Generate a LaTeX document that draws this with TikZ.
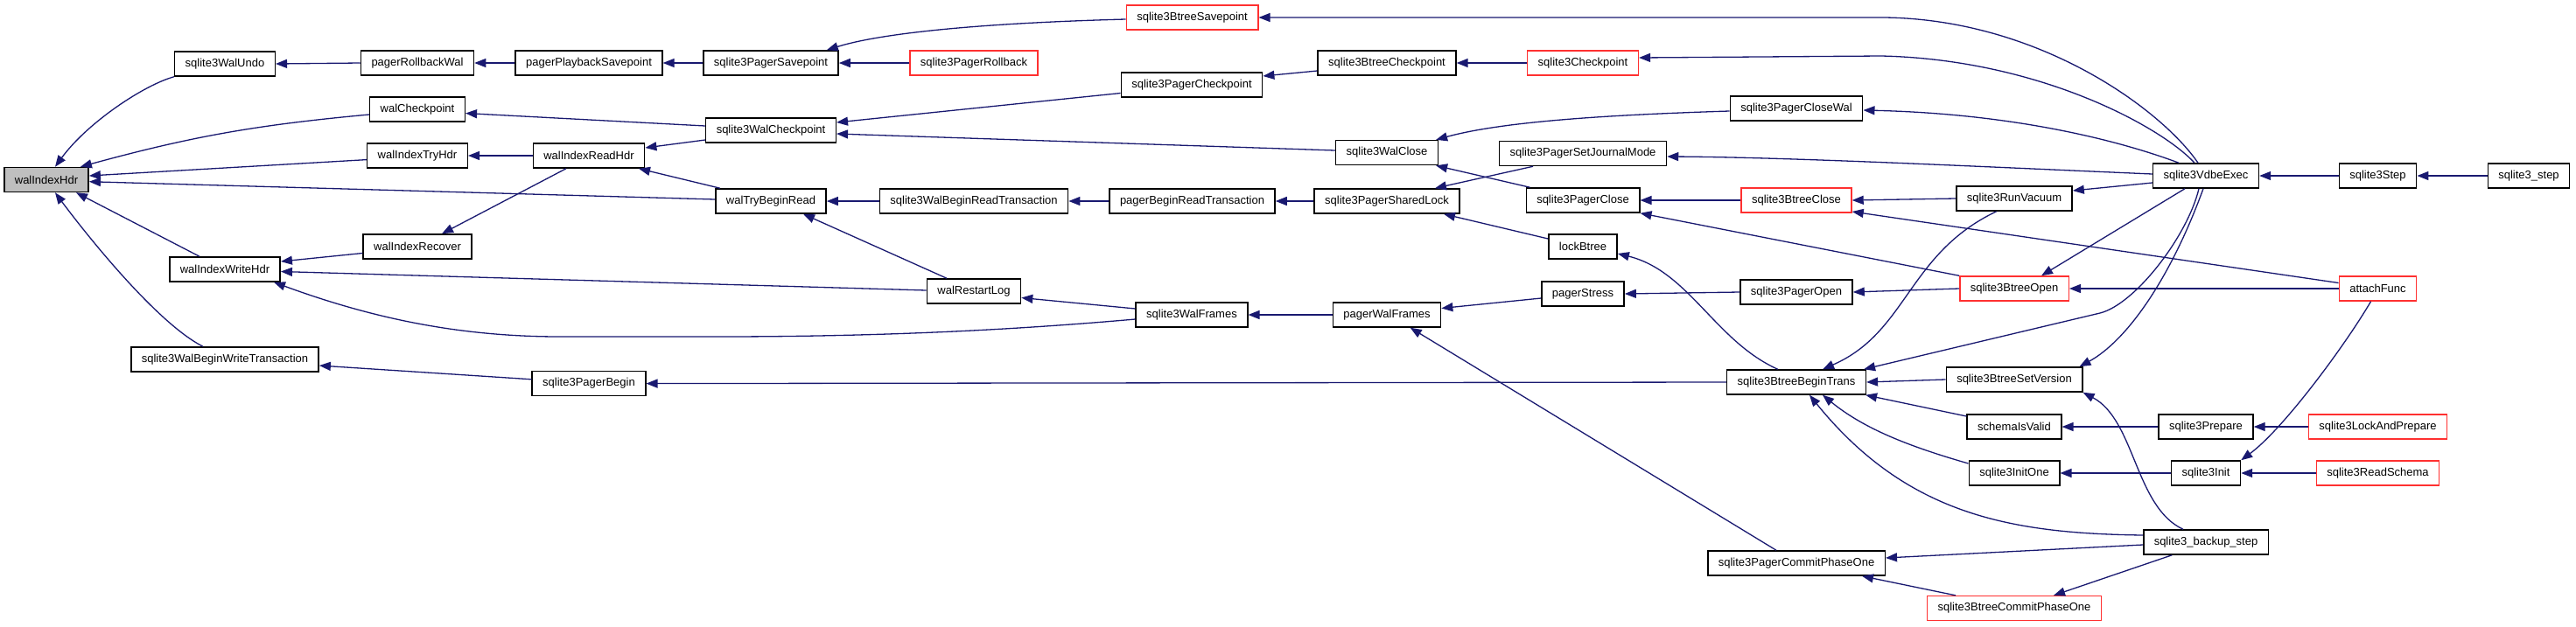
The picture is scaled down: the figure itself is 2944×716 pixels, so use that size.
\documentclass[tikz,border=0pt]{standalone}
\usepackage{fontspec}
\setmainfont{Liberation Sans}
\usetikzlibrary{arrows.meta,calc}
\definecolor{edgeblue}{HTML}{191970}
\definecolor{nodered}{HTML}{FF3030}
\definecolor{rootgray}{HTML}{BFBFBF}
\tikzset{
 box/.style={draw=black, line width=1.5pt, fill=white, minimum height=28pt, inner xsep=12pt, inner ysep=0pt, font=\fontsize{13}{15}\selectfont, text=black},
 redbox/.style={box, draw=nodered},
 rootbox/.style={box, fill=rootgray},
 call/.style={draw=edgeblue, line width=1.3pt, -{Triangle[length=13pt,width=10pt]}},
}
\begin{document}
\begin{tikzpicture}[x=1pt,y=-1pt]
\useasboundingbox (0,0) rectangle (2944,716);
% nodes
\node[rootbox] (hdr) at (53,205.5) {walIndexHdr};
\node[box] (walundo) at (257,73) {sqlite3WalUndo};
\node[box] (writehdr) at (257,308) {walIndexWriteHdr};
\node[box] (bwt) at (257,411) {sqlite3WalBeginWriteTransaction};
\node[box] (rbwal) at (477,72) {pagerRollbackWal};
\node[box] (walckpt) at (477,125) {walCheckpoint};
\node[box] (tryhdr) at (477,178) {walIndexTryHdr};
\node[box] (recover) at (477,282) {walIndexRecover};
\node[box] (playsp) at (673,72) {pagerPlaybackSavepoint};
\node[box] (readhdr) at (673,178) {walIndexReadHdr};
\node[box] (pbegin) at (673,438.6) {sqlite3PagerBegin};
\node[box] (psp) at (881,72) {sqlite3PagerSavepoint};
\node[box] (swalckpt) at (881,149) {sqlite3WalCheckpoint};
\node[box] (trybr) at (881,230) {walTryBeginRead};
\node[redbox] (prb) at (1113,72) {sqlite3PagerRollback};
\node[box] (wbrt) at (1113,230) {sqlite3WalBeginReadTransaction};
\node[box] (restart) at (1113,333) {walRestartLog};
\node[redbox] (btsp) at (1362.5,20) {sqlite3BtreeSavepoint};
\node[box] (pckpt) at (1362,97) {sqlite3PagerCheckpoint};
\node[box] (pbrt) at (1362.5,230) {pagerBeginReadTransaction};
\node[box] (walframes) at (1362,360) {sqlite3WalFrames};
\node[box] (btckpt) at (1585,72) {sqlite3BtreeCheckpoint};
\node[box] (walclose) at (1585,174.6) {sqlite3WalClose};
\node[box] (shlock) at (1585,230) {sqlite3PagerSharedLock};
\node[box] (pwf) at (1585,360) {pagerWalFrames};
\node[redbox] (ckpt) at (1809,72) {sqlite3Checkpoint};
\node[box] (sjm) at (1809,175.5) {sqlite3PagerSetJournalMode};
\node[box] (pclose) at (1809,229) {sqlite3PagerClose};
\node[box] (lockbt) at (1809,282) {lockBtree};
\node[box] (stress) at (1809,336) {pagerStress};
\node[box] (pclosewal) at (2053,124) {sqlite3PagerCloseWal};
\node[redbox] (btclose) at (2053,229) {sqlite3BtreeClose};
\node[box] (popen) at (2053,334) {sqlite3PagerOpen};
\node[box] (bttrans) at (2053,437) {sqlite3BtreeBeginTrans};
\node[box] (pcpo) at (2053,644) {sqlite3PagerCommitPhaseOne};
\node[box] (vacuum) at (2302,227) {sqlite3RunVacuum};
\node[redbox] (btopen) at (2302,330) {sqlite3BtreeOpen};
\node[box] (setver) at (2302,434) {sqlite3BtreeSetVersion};
\node[box] (schema) at (2302,488) {schemaIsValid};
\node[box] (initone) at (2302,541) {sqlite3InitOne};
\node[redbox] (bcpo) at (2302,695.6) {sqlite3BtreeCommitPhaseOne};
\node[box] (vdbe) at (2521,201) {sqlite3VdbeExec};
\node[box] (prepare) at (2521,488) {sqlite3Prepare};
\node[box] (init) at (2521,541) {sqlite3Init};
\node[box] (backup) at (2521,620) {sqlite3\_backup\_step};
\node[box] (step) at (2717.5,201) {sqlite3Step};
\node[redbox] (attach) at (2717.5,330) {attachFunc};
\node[redbox] (lap) at (2717.5,488) {sqlite3LockAndPrepare};
\node[redbox] (readschema) at (2717.5,541) {sqlite3ReadSchema};
\node[box] (ustep) at (2890,201) {sqlite3\_step};
% edges (caller -> callee)
\draw[call] (walundo.south west) .. controls (165,97) and (100,140) .. ($(hdr.north)+(10,0)$);
\draw[call] ($(walckpt.west)+(0,6)$) to[bend right=5] ($(hdr.north east)+(-10,0)$);
\draw[call] ($(tryhdr.west)+(0,4.6)$) -- ($(hdr.east)+(0,-4.5)$);
\draw[call] ($(trybr.west)+(0,-2)$) -- ($(hdr.east)+(0,2.2)$);
\draw[call] ($(writehdr.north)+(-29,0)$) -- ($(hdr.south)+(34,0)$);
\draw[call] ($(bwt.north)+(-25,0)$) .. controls (180,370) and (100,270) .. ($(hdr.south)+(10,0)$);
\draw[call] (rbwal.west) -- (walundo.east);
\draw[call] (playsp.west) -- (rbwal.east);
\draw[call] (psp.west) -- (playsp.east);
\draw[call] ($(btsp.west)+(0,2)$) .. controls (1100,27) and (1000,40) .. ($(psp.north east)+(-14,0)$);
\draw[call] (prb.west) -- (psp.east);
\draw[call] ($(vdbe.north)+(-9,0)$) .. controls (2470,125) and (2330,22) .. (2153,20) -- (btsp.east);
\draw[call] ($(swalckpt.west)+(0,-5)$) -- ($(walckpt.east)+(0,4.5)$);
\draw[call] ($(pckpt.west)+(0,9.5)$) -- ($(swalckpt.east)+(0,-9)$);
\draw[call] ($(walclose.west)+(0,-2.6)$) -- ($(swalckpt.east)+(0,4)$);
\draw[call] ($(btckpt.west)+(0,9)$) -- ($(pckpt.east)+(0,-10)$);
\draw[call] (ckpt.west) -- (btckpt.east);
\draw[call] ($(vdbe.north)+(-13,0)$) .. controls (2470,145) and (2330,68) .. (2150,64) -- ($(ckpt.east)+(0,-6)$);
\draw[call] (readhdr.west) -- (tryhdr.east);
\draw[call] ($(swalckpt.west)+(0,11)$) -- ($(readhdr.east)+(0,-9)$);
\draw[call] ($(trybr.north)+(-58,0)$) -- ($(readhdr.south)+(57,0)$);
\draw[call] ($(readhdr.south)+(-26,0)$) -- ($(recover.north)+(28,0)$);
\draw[call] ($(recover.west)+(0,7.5)$) -- ($(writehdr.east)+(0,-9)$);
\draw[call] ($(restart.west)+(0,-1)$) -- ($(writehdr.east)+(0,2.5)$);
\draw[call] ($(walframes.west)+(0,5)$) .. controls (1150,378) and (1000,385) .. (820,385) -- (640,385) .. controls (520,385) and (420,362) .. ($(writehdr.south)+(56,0)$);
\draw[call] ($(pbegin.west)+(0,-4.8)$) -- ($(bwt.east)+(0,7)$);
\draw[call] (wbrt.west) -- (trybr.east);
\draw[call] ($(restart.north)+(-31,0)$) -- ($(trybr.south)+(37,0)$);
\draw[call] ($(walframes.west)+(0,-7)$) -- ($(restart.east)+(0,7.5)$);
\draw[call] (pbrt.west) -- (wbrt.east);
\draw[call] (shlock.west) -- (pbrt.east);
\draw[call] (pwf.west) -- (walframes.east);
\draw[call] (bttrans.west) -- (pbegin.east);
\draw[call] ($(pclosewal.west)+(0,3)$) .. controls (1850,131) and (1720,138) .. ($(walclose.north east)+(-3,0)$);
\draw[call] ($(pclose.north west)+(5,0)$) -- ($(walclose.south east)+(-3,0)$);
\draw[call] ($(sjm.south)+(-57,0)$) -- ($(shlock.north)+(55,0)$);
\draw[call] ($(lockbt.west)+(0,-9)$) -- ($(shlock.south)+(65,0)$);
\draw[call] ($(stress.west)+(0,5)$) -- ($(pwf.east)+(0,-7.5)$);
\draw[call] ($(pcpo.north)+(-23,0)$) -- ($(pwf.south)+(26.7,0)$);
\draw[call] ($(vdbe.north)+(-31,0)$) .. controls (2420,160) and (2300,130) .. ($(pclosewal.east)+(0,2)$);
\draw[call] ($(vdbe.west)+(0,-2)$) .. controls (2250,190) and (2050,180) .. ($(sjm.east)+(0,3.5)$);
\draw[call] (btclose.west) -- (pclose.east);
\draw[call] (btopen.north west) -- (pclose.south east);
\draw[call] ($(bttrans.north)+(-21.3,0)$) .. controls (1960,390) and (1930,310) .. ($(lockbt.east)+(0,8)$);
\draw[call] (popen.west) -- (stress.east);
\draw[call] (vacuum.west) -- (btclose.east);
\draw[call] ($(attach.west)+(0,-6.5)$) -- ($(btclose.east)+(0,13)$);
\draw[call] (btopen.west) -- (popen.east);
\draw[call] ($(vacuum.south)+(-20.3,0)$) .. controls (2180,290) and (2180,380) .. ($(bttrans.north)+(30,0)$);
\draw[call] ($(vdbe.west)+(0,8)$) -- ($(vacuum.east)+(0,-9)$);
\draw[call] ($(vdbe.south)+(-24,0)$) -- ($(btopen.north)+(31,0)$);
\draw[call] (attach.west) -- (btopen.east);
\draw[call] ($(vdbe.south)+(-8,0)$) .. controls (2500,270) and (2440,348) .. (2400,358) -- ($(bttrans.north east)+(-3,0)$);
\draw[call] (setver.west) -- (bttrans.east);
\draw[call] ($(schema.west)+(0,-12)$) -- ($(bttrans.south east)+(-1,0)$);
\draw[call] ($(initone.west)+(0,-11)$) .. controls (2180,510) and (2130,490) .. ($(bttrans.south)+(30,0)$);
\draw[call] ($(backup.west)+(0,-8)$) .. controls (2300,610) and (2180,590) .. ($(bttrans.south)+(15,0)$);
\draw[call] ($(vdbe.south)+(-3,0)$) .. controls (2480,320) and (2430,390) .. ($(setver.north east)+(-4,0)$);
\draw[call] ($(backup.north)+(-26,0)$) .. controls (2440,580) and (2440,480) .. (setver.south east);
\draw[call] (prepare.west) -- (schema.east);
\draw[call] (init.west) -- (initone.east);
\draw[call] ($(backup.west)+(0,3)$) -- ($(pcpo.east)+(0,-6)$);
\draw[call] ($(bcpo.north)+(-67,0)$) -- ($(pcpo.south)+(75,0)$);
\draw[call] ($(backup.south)+(-38.7,0)$) -- ($(bcpo.north)+(45,0)$);
\draw[call] (step.west) -- (vdbe.east);
\draw[call] (ustep.west) -- (step.east);
\draw[call] (lap.west) -- (prepare.east);
\draw[call] (readschema.west) -- (init.east);
\draw[call] ($(attach.south)+(-8,0)$) .. controls (2680,395) and (2610,490) .. (init.north east);
\end{tikzpicture}
\end{document}
